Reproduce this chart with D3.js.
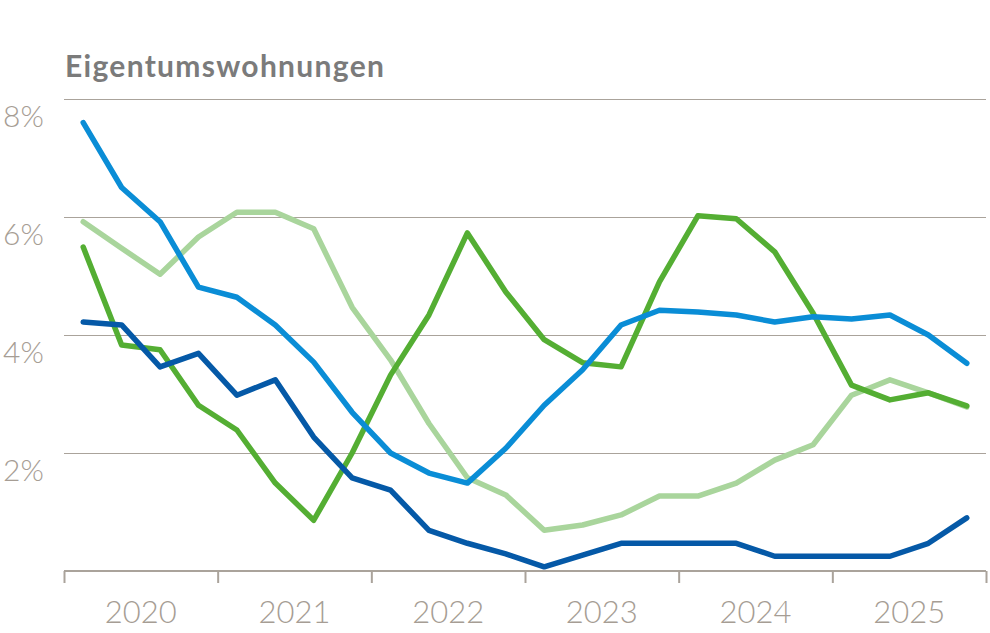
<!DOCTYPE html>
<html>
<head>
<meta charset="utf-8">
<script src="https://cdn.jsdelivr.net/npm/d3@7"></script>
<style>
  html, body { margin: 0; padding: 0; background: #fff; }
  svg { display: block; }
</style>
</head>
<body>
<svg id="chart" width="990" height="633"></svg>
<script>
const title = "Eigentumswohnungen";
const years = ["2020", "2021", "2022", "2023", "2024", "2025"];
const quarters = d3.range(24); // 2020 Q1 .. 2025 Q4
const yTicks = [2, 4, 6, 8];

const seriesLightGreen = [5.92, 5.47, 5.03, 5.66, 6.08, 6.08, 5.8, 4.47, 3.58, 2.5, 1.58, 1.29, 0.69, 0.78, 0.95, 1.27, 1.27, 1.49, 1.88, 2.14, 2.98, 3.24, 3.02, 2.78];
const seriesGreen = [5.49, 3.83, 3.75, 2.81, 2.39, 1.49, 0.86, 2.0, 3.32, 4.34, 5.73, 4.73, 3.92, 3.53, 3.46, 4.9, 6.02, 5.97, 5.41, 4.37, 3.15, 2.9, 3.02, 2.8];
const seriesBlue = [7.6, 6.5, 5.92, 4.81, 4.64, 4.17, 3.54, 2.69, 2.0, 1.66, 1.49, 2.08, 2.81, 3.41, 4.17, 4.42, 4.39, 4.34, 4.22, 4.31, 4.27, 4.34, 4.0, 3.52];
const seriesDarkBlue = [4.22, 4.17, 3.46, 3.69, 2.98, 3.24, 2.27, 1.58, 1.37, 0.69, 0.47, 0.29, 0.07, 0.27, 0.47, 0.47, 0.47, 0.47, 0.25, 0.25, 0.25, 0.25, 0.47, 0.9];

const series = [
  { values: seriesLightGreen, color: "#a9d59c" },
  { values: seriesGreen, color: "#54ae33" },
  { values: seriesBlue, color: "#0a8dd6" },
  { values: seriesDarkBlue, color: "#0559a7" }
];

const svg = d3.select("#chart");
const plotLeft = 64, plotRight = 986, plotTop = 99, plotBottom = 571;
const axisColor = "#aaa39b";
const textColor = "#a69d94";

const x = d3.scaleLinear().domain([0, 24]).range([plotLeft, plotRight]);
const y = d3.scaleLinear().domain([0, 8]).range([plotBottom, plotTop]);

// Title
svg.append("text")
  .attr("x", 65).attr("y", 77)
  .attr("font-family", "Lato, 'Open Sans', sans-serif")
  .attr("font-weight", 700)
  .attr("font-size", 30)
  .attr("letter-spacing", 1.3)
  .attr("fill", "#7b7b7b")
  .text(title);

// Gridlines
svg.append("g").selectAll("line").data(yTicks).join("line")
  .attr("x1", plotLeft).attr("x2", plotRight)
  .attr("y1", d => Math.round(y(d)) + 0.5).attr("y2", d => Math.round(y(d)) + 0.5)
  .attr("stroke", axisColor).attr("stroke-width", 1);

// Y labels
svg.append("g").selectAll("text").data(yTicks).join("text")
  .attr("x", 3).attr("y", d => y(d) + 28)
  .attr("font-family", "Lato, 'Open Sans', sans-serif")
  .attr("font-weight", 300)
  .attr("font-size", 30)
  .attr("fill", textColor)
  .text(d => d + "%");

// X axis
const xAxis = d3.axisBottom(x)
  .tickValues(d3.range(0, 25, 4))
  .tickSize(12)
  .tickFormat("");
const gx = svg.append("g").attr("transform", `translate(0,${plotBottom})`).call(xAxis);
gx.select(".domain").attr("stroke", axisColor).attr("stroke-width", 2).attr("d", `M${plotLeft},0H${plotRight}`);
gx.selectAll(".tick line").attr("stroke", axisColor).attr("stroke-width", 2);

svg.append("g").selectAll("text").data(years).join("text")
  .attr("x", (d, i) => x(i * 4 + 2))
  .attr("y", 623)
  .attr("text-anchor", "middle")
  .attr("font-family", "Lato, 'Open Sans', sans-serif")
  .attr("font-weight", 300)
  .attr("font-size", 31)
  .attr("fill", textColor)
  .text(d => d);

// Lines
const line = d3.line()
  .x((d, i) => x(quarters[i] + 0.5))
  .y(d => y(d));

svg.append("g").selectAll("path").data(series).join("path")
  .attr("d", d => line(d.values))
  .attr("fill", "none")
  .attr("stroke", d => d.color)
  .attr("stroke-width", 5.5)
  .attr("stroke-linejoin", "round")
  .attr("stroke-linecap", "round");
</script>
</body>
</html>
